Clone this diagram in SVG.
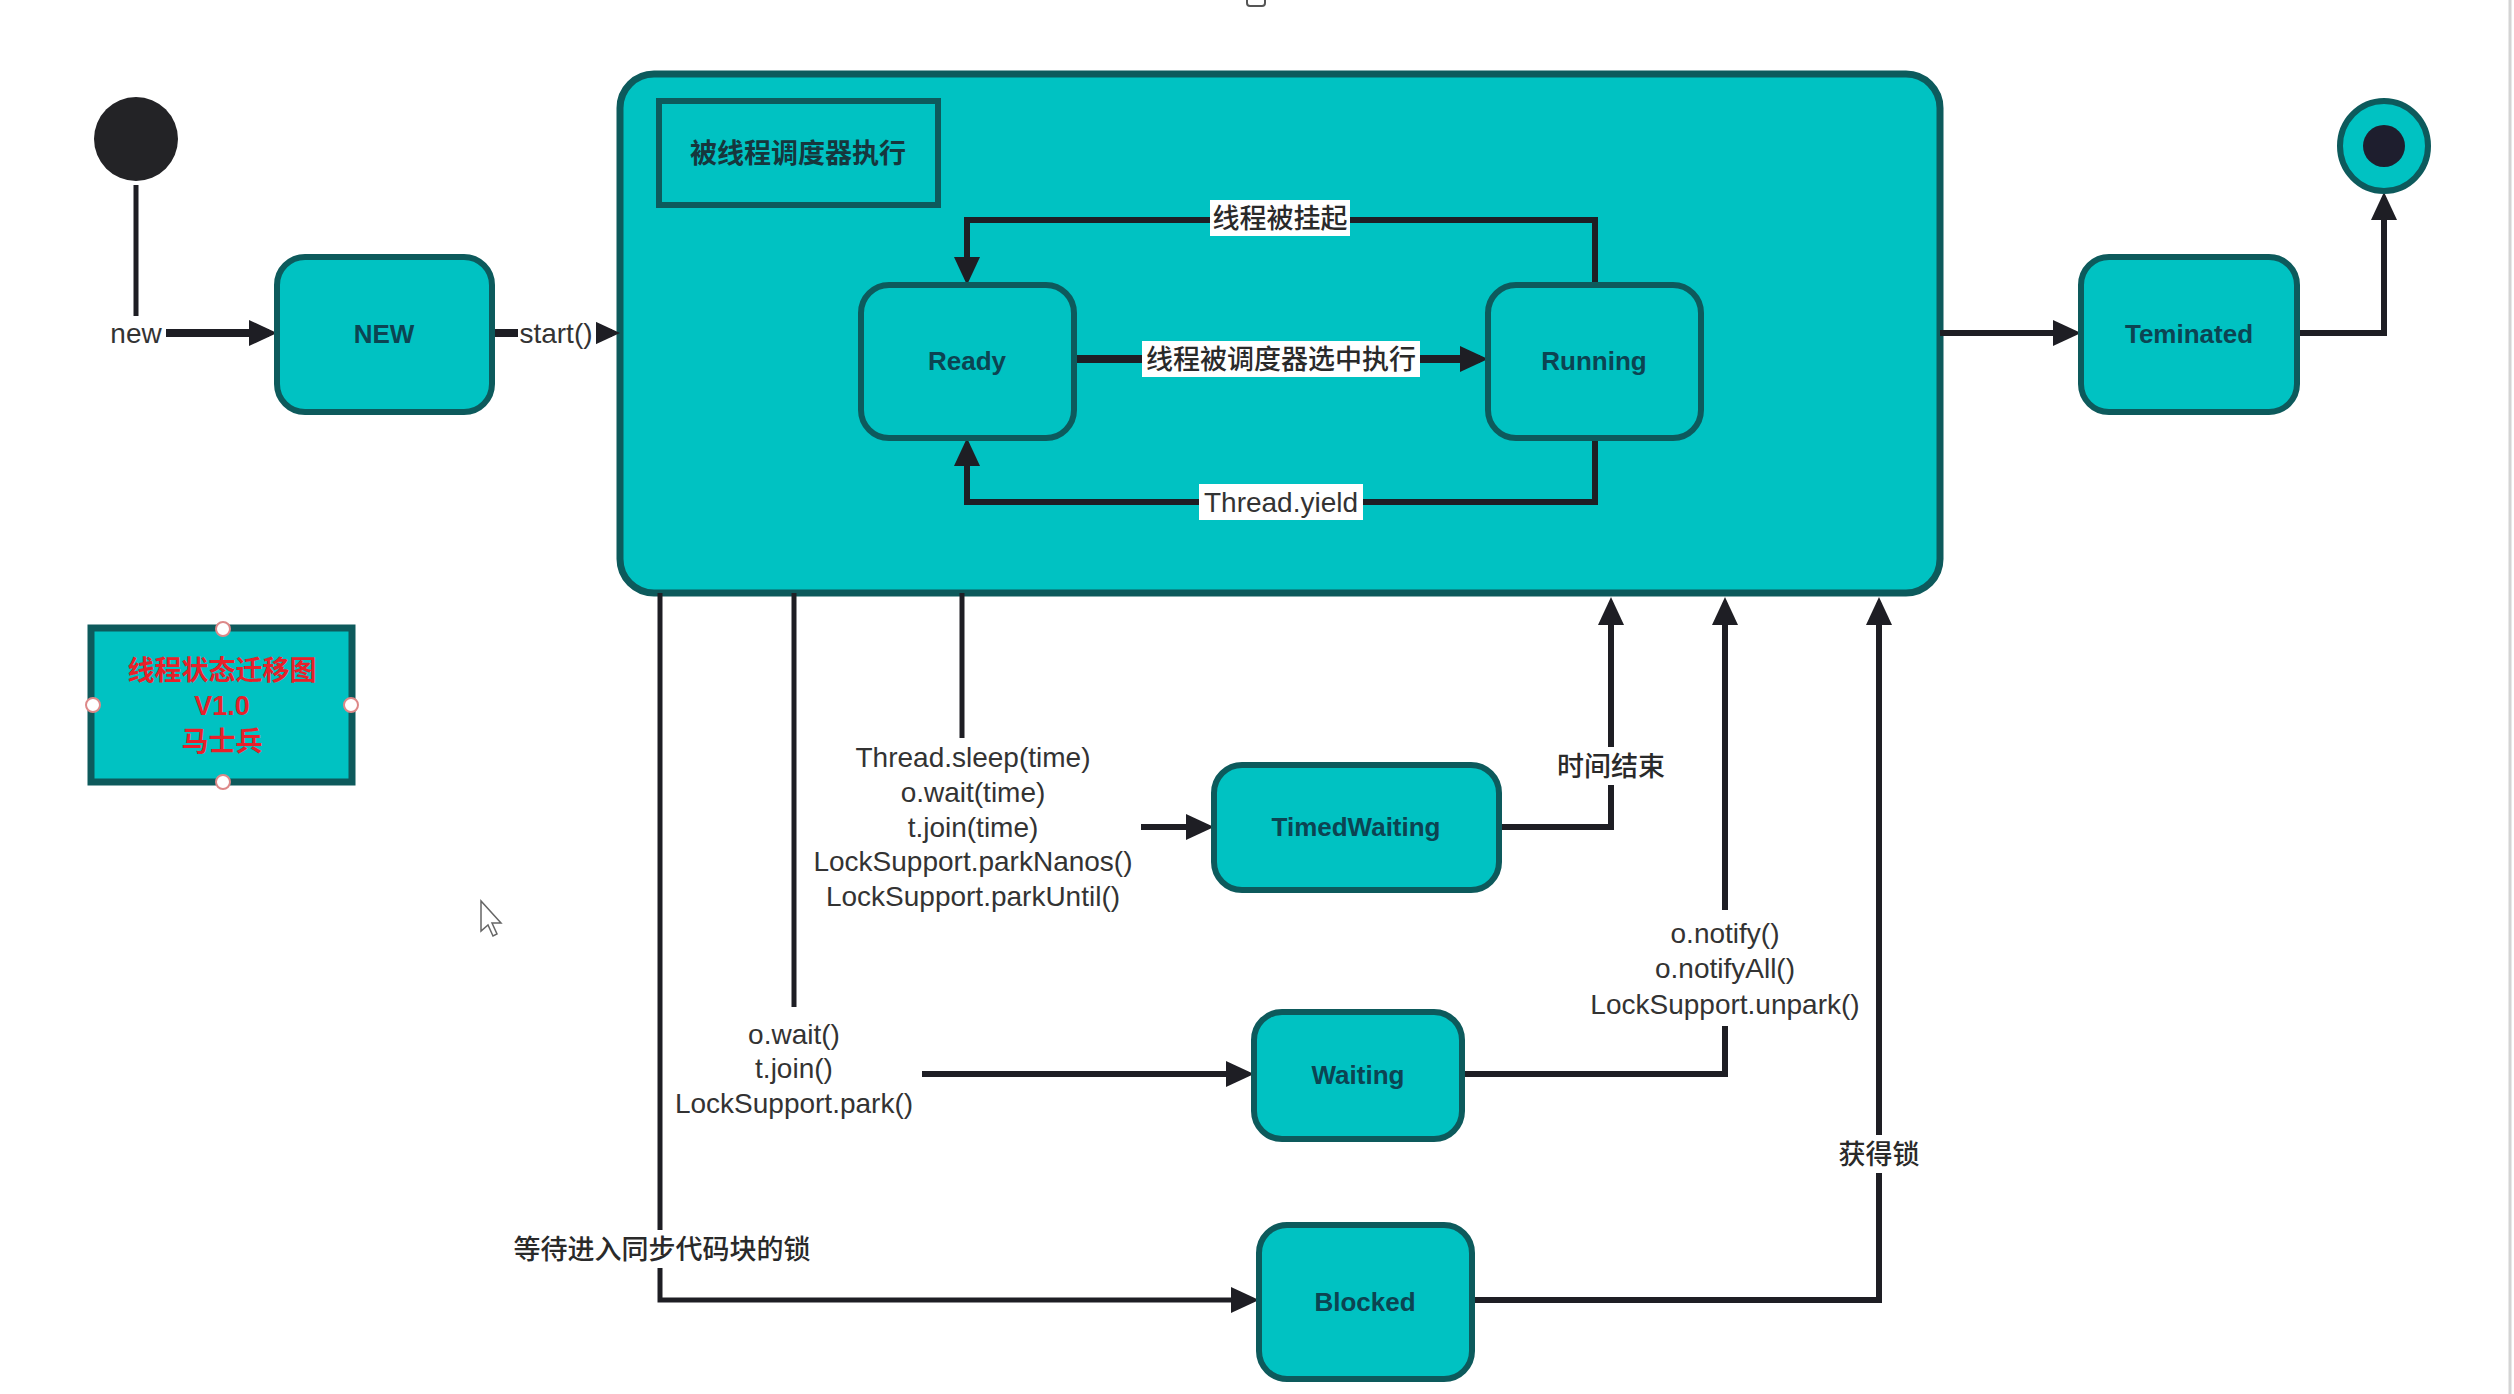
<svg xmlns="http://www.w3.org/2000/svg" width="2514" height="1394" viewBox="0 0 2514 1394">
<defs>
<style>
.node{fill:#00c2c2;stroke:#0d5a5c;stroke-width:6}
.nt{font-family:"Liberation Sans","Noto Sans CJK SC",sans-serif;font-size:26px;font-weight:bold;fill:#0c4452;text-anchor:middle}
.lbl{font-family:"Liberation Sans","Noto Sans CJK SC",sans-serif;font-size:28px;fill:#333;text-anchor:middle}
.cjk{font-family:"Noto Sans CJK SC","Liberation Sans",sans-serif;font-size:27px;font-weight:500;fill:#2a2a2a;text-anchor:middle}
.ttl{font-family:"Noto Sans CJK SC","Liberation Sans",sans-serif;font-size:27px;font-weight:bold;fill:#16373d;text-anchor:middle}
.bg{fill:#ffffff}
.c{fill:none;stroke:#1e1e24;stroke-width:6}
.thin{fill:none;stroke:#1e1e24;stroke-width:5}
.thick{fill:none;stroke:#1e1e24;stroke-width:8}
.red{font-family:"Noto Sans CJK SC","Liberation Sans",sans-serif;font-size:27px;font-weight:bold;fill:#e8202a;text-anchor:middle}
.hdl{fill:#ffffff;stroke:#d88;stroke-width:2}
</style>
<marker id="arr" markerUnits="userSpaceOnUse" markerWidth="28" markerHeight="26" viewBox="0 0 28 26" refX="20" refY="13" orient="auto">
<path d="M0,0 L28,13 L0,26 Z" fill="#1e1e24"/>
</marker>
</defs>
<rect x="0" y="0" width="2514" height="1394" fill="#ffffff"/>
<line x1="2510" y1="0" x2="2510" y2="1394" stroke="#d4d4d4" stroke-width="3"/>
<rect x="1247" y="-4" width="18" height="10" rx="3" fill="none" stroke="#555" stroke-width="2"/>

<g id="container">
<rect x="620" y="74" width="1320" height="519" rx="34" fill="#00c2c2" stroke="#0d5a5c" stroke-width="7"/>
</g>
<g id="title">
<rect x="659" y="101" width="279" height="104" fill="#00c2c2" stroke="#0d5a5c" stroke-width="6"/>
<text x="798" y="163" class="ttl">被线程调度器执行</text>
</g>

<g id="connectors">
<path class="thin" d="M136,185 V333"/>
<path class="thick" d="M136,333 H269" marker-end="url(#arr)"/>
<path class="thick" d="M492,333 H612" marker-end="url(#arr)"/>
<path class="thick" d="M1074,359 H1480" marker-end="url(#arr)"/>
<path class="c" d="M1595,285 V220 H967 V277" marker-end="url(#arr)"/>
<path class="c" d="M1595,438 V502 H967 V446" marker-end="url(#arr)"/>
<path class="c" d="M1940,333 H2073" marker-end="url(#arr)"/>
<path class="c" d="M2297,333 H2384 V200" marker-end="url(#arr)"/>
<path class="thin" d="M660,593 V1300 H1251" marker-end="url(#arr)"/>
<path class="thin" d="M794,593 V1007"/>
<path class="c" d="M922,1074 H1246" marker-end="url(#arr)"/>
<path class="thin" d="M962,593 V738"/>
<path class="c" d="M1141,827 H1206" marker-end="url(#arr)"/>
<path class="c" d="M1499,827 H1611 V605" marker-end="url(#arr)"/>
<path class="c" d="M1462,1074 H1725 V605" marker-end="url(#arr)"/>
<path class="c" d="M1472,1300 H1879 V605" marker-end="url(#arr)"/>
</g>

<g id="labels">
<rect class="bg" x="108" y="316" width="58" height="34"/>
<text class="lbl" x="136" y="343">new</text>
<rect class="bg" x="518" y="316" width="78" height="34"/>
<text class="lbl" x="556" y="343">start()</text>
<rect class="bg" x="1142" y="341" width="278" height="36"/>
<text class="cjk" x="1281" y="369">线程被调度器选中执行</text>
<rect class="bg" x="1210" y="200" width="140" height="36"/>
<text class="cjk" x="1280" y="228">线程被挂起</text>
<rect class="bg" x="1199" y="484" width="164" height="36"/>
<text class="lbl" x="1281" y="512">Thread.yield</text>
<text class="lbl" x="973" y="767">Thread.sleep(time)</text>
<text class="lbl" x="973" y="802">o.wait(time)</text>
<text class="lbl" x="973" y="837">t.join(time)</text>
<text class="lbl" x="973" y="871">LockSupport.parkNanos()</text>
<text class="lbl" x="973" y="906">LockSupport.parkUntil()</text>
<text class="lbl" x="794" y="1044">o.wait()</text>
<text class="lbl" x="794" y="1078">t.join()</text>
<text class="lbl" x="794" y="1113">LockSupport.park()</text>
<rect class="bg" x="508" y="1230" width="308" height="38"/>
<text class="cjk" x="662" y="1259">等待进入同步代码块的锁</text>
<rect class="bg" x="1555" y="747" width="112" height="38"/>
<text class="cjk" x="1611" y="776">时间结束</text>
<rect class="bg" x="1578" y="910" width="294" height="116"/>
<text class="lbl" x="1725" y="943">o.notify()</text>
<text class="lbl" x="1725" y="978">o.notifyAll()</text>
<text class="lbl" x="1725" y="1014">LockSupport.unpark()</text>
<rect class="bg" x="1835" y="1135" width="88" height="38"/>
<text class="cjk" x="1879" y="1164">获得锁</text>
</g>

<g id="start">
<circle cx="136" cy="139" r="42" fill="#232326"/>
</g>
<g id="end">
<ellipse cx="2384" cy="146" rx="44" ry="45" fill="#00c2c2" stroke="#0d5a5c" stroke-width="6"/>
<circle cx="2384" cy="146" r="21" fill="#1e1e2e"/>
</g>
<g id="new">
<rect class="node" x="277" y="257" width="215" height="155" rx="28"/>
<text class="nt" x="384" y="343">NEW</text>
</g>
<g id="ready">
<rect class="node" x="861" y="285" width="213" height="153" rx="28"/>
<text class="nt" x="967" y="370">Ready</text>
</g>
<g id="running">
<rect class="node" x="1488" y="285" width="213" height="153" rx="28"/>
<text class="nt" x="1594" y="370">Running</text>
</g>
<g id="terminated">
<rect class="node" x="2081" y="257" width="216" height="155" rx="28"/>
<text class="nt" x="2189" y="343">Teminated</text>
</g>
<g id="timedwaiting">
<rect class="node" x="1214" y="765" width="285" height="125" rx="28"/>
<text class="nt" x="1356" y="836">TimedWaiting</text>
</g>
<g id="waiting">
<rect class="node" x="1254" y="1012" width="208" height="127" rx="28"/>
<text class="nt" x="1358" y="1084">Waiting</text>
</g>
<g id="blocked">
<rect class="node" x="1259" y="1225" width="213" height="154" rx="28"/>
<text class="nt" x="1365" y="1311">Blocked</text>
</g>
<g id="legend">
<rect x="91" y="628" width="261" height="154" fill="#00c2c2" stroke="#0d5a5c" stroke-width="7"/>
<text class="red" x="222" y="680">线程状态迁移图</text>
<text class="red" x="222" y="715" style="font-family:'Liberation Sans',sans-serif">V1.0</text>
<text class="red" x="222" y="751">马士兵</text>
<circle class="hdl" cx="223" cy="629" r="7"/>
<circle class="hdl" cx="223" cy="782" r="7"/>
<circle class="hdl" cx="93" cy="705" r="7"/>
<circle class="hdl" cx="351" cy="705" r="7"/>
</g>
<g id="cursor">
<path d="M481,901 L481,931 L488,925 L493,936 L497,934 L492,923 L501,923 Z" fill="#ffffff" stroke="#666" stroke-width="1.5"/>
</g>
</svg>
